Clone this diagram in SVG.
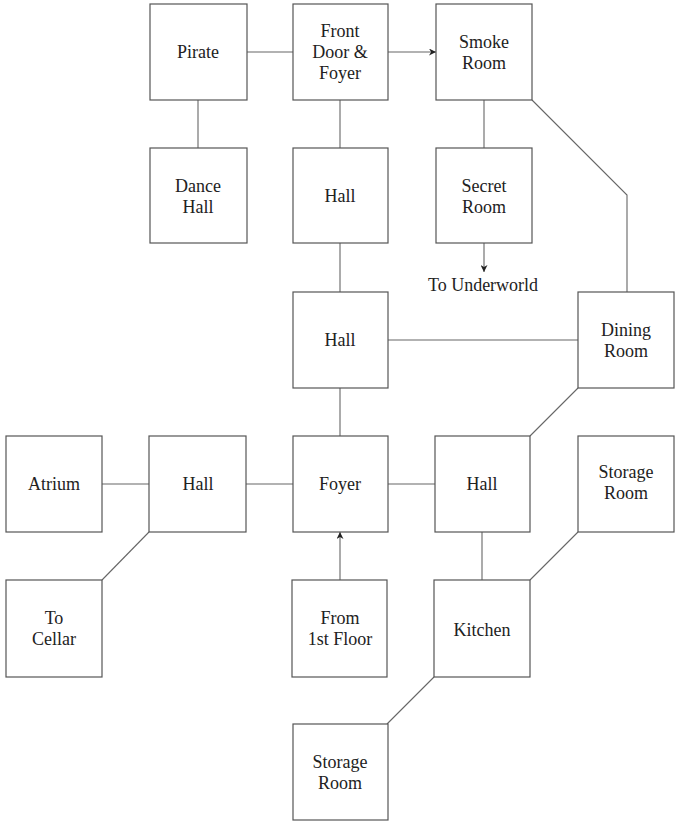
<svg xmlns="http://www.w3.org/2000/svg" width="675" height="821" viewBox="0 0 675 821">
<style>
.box{fill:#fff;stroke:#555;stroke-width:1.2}
.t{font-family:'Liberation Serif','Times New Roman',Tinos,'DejaVu Serif',serif;font-size:18px;fill:#222;text-anchor:middle}
.c{fill:none;stroke:#666;stroke-width:1.1}
</style>
<defs>
<marker id="ah" viewBox="0 0 10 10" refX="10" refY="5" markerWidth="7" markerHeight="7" orient="auto" markerUnits="userSpaceOnUse">
<path d="M0,0 L10,5 L0,10 L3,5 z" fill="#222"/>
</marker>
</defs>
<rect width="675" height="821" fill="#fff"/>
<g id="connectors">
<line class="c" x1="247" y1="52" x2="294" y2="52"/>
<line class="c" x1="388" y1="52" x2="436" y2="52" marker-end="url(#ah)"/>
<line class="c" x1="198" y1="100" x2="198" y2="148"/>
<line class="c" x1="340" y1="100" x2="340" y2="148"/>
<line class="c" x1="484" y1="100" x2="484" y2="148"/>
<line class="c" x1="484" y1="243" x2="484" y2="272" marker-end="url(#ah)"/>
<line class="c" x1="340" y1="243" x2="340" y2="292"/>
<line class="c" x1="388" y1="340" x2="578" y2="340"/>
<polyline class="c" points="532,100 627,195 627,292"/>
<line class="c" x1="340" y1="388" x2="340" y2="436"/>
<line class="c" x1="102" y1="484" x2="149" y2="484"/>
<line class="c" x1="246" y1="484" x2="293" y2="484"/>
<line class="c" x1="388" y1="484" x2="435" y2="484"/>
<line class="c" x1="578" y1="388" x2="530" y2="436"/>
<line class="c" x1="482" y1="532" x2="482" y2="580"/>
<line class="c" x1="578" y1="532" x2="530" y2="580"/>
<line class="c" x1="149" y1="532" x2="102" y2="580"/>
<line class="c" x1="340" y1="580" x2="340" y2="532" marker-end="url(#ah)"/>
<line class="c" x1="434" y1="677" x2="387" y2="724"/>
</g>
<g id="pirate"><rect class="box" x="150" y="4" width="97" height="96"/><text class="t" x="198" y="58">Pirate</text></g>
<g id="front-door"><rect class="box" x="293" y="4" width="95" height="96"/><text class="t" x="340" y="37">Front</text><text class="t" x="340" y="58">Door &amp;</text><text class="t" x="340" y="79">Foyer</text></g>
<g id="smoke-room"><rect class="box" x="436" y="4" width="96" height="96"/><text class="t" x="484" y="48">Smoke</text><text class="t" x="484" y="69">Room</text></g>
<g id="dance-hall"><rect class="box" x="150" y="148" width="97" height="95"/><text class="t" x="198" y="192">Dance</text><text class="t" x="198" y="213">Hall</text></g>
<g id="hall-1"><rect class="box" x="293" y="148" width="95" height="95"/><text class="t" x="340" y="202">Hall</text></g>
<g id="secret-room"><rect class="box" x="436" y="148" width="96" height="95"/><text class="t" x="484" y="192">Secret</text><text class="t" x="484" y="213">Room</text></g>
<g id="to-underworld"><text class="t" x="483" y="291">To Underworld</text></g>
<g id="hall-2"><rect class="box" x="293" y="292" width="95" height="96"/><text class="t" x="340" y="346">Hall</text></g>
<g id="dining-room"><rect class="box" x="578" y="292" width="96" height="96"/><text class="t" x="626" y="336">Dining</text><text class="t" x="626" y="357">Room</text></g>
<g id="atrium"><rect class="box" x="6" y="436" width="96" height="96"/><text class="t" x="54" y="490">Atrium</text></g>
<g id="hall-3"><rect class="box" x="149" y="436" width="97" height="96"/><text class="t" x="198" y="490">Hall</text></g>
<g id="foyer"><rect class="box" x="293" y="436" width="95" height="96"/><text class="t" x="340" y="490">Foyer</text></g>
<g id="hall-4"><rect class="box" x="435" y="436" width="95" height="96"/><text class="t" x="482" y="490">Hall</text></g>
<g id="storage-room-1"><rect class="box" x="578" y="436" width="96" height="96"/><text class="t" x="626" y="478">Storage</text><text class="t" x="626" y="499">Room</text></g>
<g id="to-cellar"><rect class="box" x="6" y="580" width="96" height="97"/><text class="t" x="54" y="624">To</text><text class="t" x="54" y="645">Cellar</text></g>
<g id="from-1st-floor"><rect class="box" x="292" y="580" width="95" height="97"/><text class="t" x="340" y="624">From</text><text class="t" x="340" y="645">1st Floor</text></g>
<g id="kitchen"><rect class="box" x="434" y="580" width="96" height="97"/><text class="t" x="482" y="636">Kitchen</text></g>
<g id="storage-room-2"><rect class="box" x="293" y="724" width="95" height="96"/><text class="t" x="340" y="768">Storage</text><text class="t" x="340" y="789">Room</text></g>
</svg>
